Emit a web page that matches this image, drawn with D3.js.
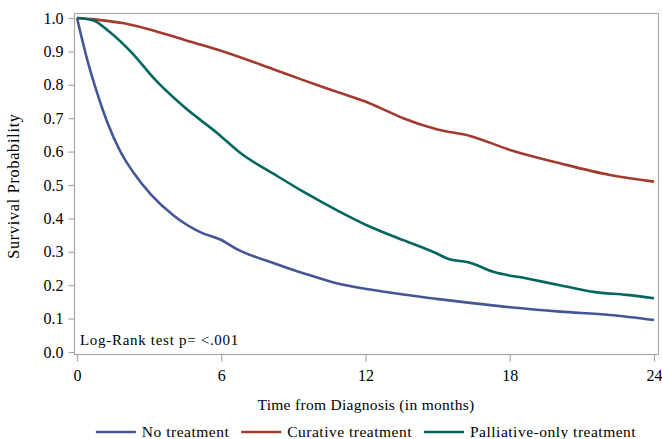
<!DOCTYPE html>
<html>
<head>
<meta charset="utf-8">
<script src="https://cdn.jsdelivr.net/npm/d3@7"></script>
<style>
  body { margin: 0; background: #fff; }
  text { font-family: "Liberation Serif", "Times New Roman", serif; fill: #000; }
</style>
</head>
<body>
<svg id="chart" width="662" height="439"></svg>
<script>
// months since diagnosis and survival probability
const noTxMonths = [0, 0.43, 0.84, 1.26, 1.82, 2.37, 3.07, 4.03, 5.15, 5.98, 6.67, 8.19, 9.41, 10.8, 12.19, 13.57, 14.96, 16.35, 18.01, 20.09, 22.17, 24];
const noTxSurv = [1.0, 0.874, 0.775, 0.688, 0.598, 0.535, 0.472, 0.408, 0.358, 0.336, 0.307, 0.266, 0.236, 0.206, 0.187, 0.172, 0.159, 0.147, 0.134, 0.121, 0.111, 0.096];

const curMonths = [0, 0.71, 1.96, 3.34, 4.73, 6.11, 8.19, 9.41, 10.8, 12.19, 12.88, 13.57, 14.96, 16.35, 18.01, 20.09, 22.17, 24];
const curSurv = [1.0, 0.996, 0.984, 0.959, 0.929, 0.899, 0.846, 0.814, 0.779, 0.744, 0.722, 0.70, 0.667, 0.647, 0.605, 0.565, 0.53, 0.51];

const palMonths = [0, 0.71, 1.26, 2.37, 3.2, 4.45, 5.84, 6.81, 8.19, 9.41, 10.8, 12.19, 13.57, 14.96, 15.4, 16.35, 17.32, 18.71, 20.09, 21.48, 22.87, 24];
const palSurv = [1.0, 0.992, 0.964, 0.889, 0.819, 0.734, 0.655, 0.595, 0.533, 0.48, 0.425, 0.375, 0.335, 0.295, 0.28, 0.267, 0.24, 0.22, 0.20, 0.18, 0.171, 0.161];

const xTicks = [0, 6, 12, 18, 24];
const yTicks = [0, 0.1, 0.2, 0.3, 0.4, 0.5, 0.6, 0.7, 0.8, 0.9, 1.0];

const seriesNames = ['No treatment', 'Curative treatment', 'Palliative-only treatment'];
const seriesColors = ['#445694', '#A23A2E', '#01665E'];

const svg = d3.select('#chart');

const x = d3.scaleLinear().domain([0, 24]).range([77, 654]);
const y = d3.scaleLinear().domain([0, 1]).range([352, 18]);

// frame
svg.append('rect')
  .attr('x', 74.5).attr('y', 13.5)
  .attr('width', 584).attr('height', 341)
  .attr('fill', 'none').attr('stroke', '#a8a8a8').attr('stroke-width', 1.2);

const yAxis = svg.append('g')
  .attr('transform', 'translate(74.5,0)')
  .call(d3.axisLeft(y).tickValues(yTicks).tickFormat(d3.format('.1f')).tickSize(6).tickPadding(5));
const xAxis = svg.append('g')
  .attr('transform', 'translate(0,354.5)')
  .call(d3.axisBottom(x).tickValues(xTicks).tickSize(7).tickPadding(8));

[yAxis, xAxis].forEach(a => {
  a.select('.domain').remove();
  a.selectAll('line').attr('stroke', '#a8a8a8').attr('stroke-width', 1.2);
  a.selectAll('text')
    .style('font-family', '"Liberation Serif", serif')
    .style('font-size', '16px')
    .attr('fill', '#000');
});

const line = d3.line()
  .x(d => x(d[0]))
  .y(d => y(d[1]))
  .curve(d3.curveMonotoneX);
const allSeries = [
  d3.zip(noTxMonths, noTxSurv),
  d3.zip(curMonths, curSurv),
  d3.zip(palMonths, palSurv)
];

[1, 2, 0].forEach(i => {
  svg.append('path')
    .datum(allSeries[i])
    .attr('fill', 'none')
    .attr('stroke', seriesColors[i])
    .attr('stroke-width', 2.6)
    .attr('stroke-linejoin', 'round')
    .attr('d', line);
});

svg.append('text')
  .attr('x', 80).attr('y', 345)
  .style('font-size', '15px')
  .style('letter-spacing', '0.7px')
  .text('Log-Rank test p= <.001');

svg.append('text')
  .attr('transform', 'translate(19,186) rotate(-90)')
  .attr('text-anchor', 'middle')
  .style('font-size', '16px')
  .style('letter-spacing', '0.8px')
  .text('Survival Probability');

svg.append('text')
  .attr('x', 366).attr('y', 410)
  .attr('text-anchor', 'middle')
  .style('font-size', '15.5px')
  .style('letter-spacing', '0.3px')
  .text('Time from Diagnosis (in months)');

// legend
const legend = svg.append('g');
let lx = 0;
seriesNames.forEach((name, i) => {
  legend.append('line')
    .attr('x1', lx).attr('x2', lx + 40)
    .attr('y1', 432).attr('y2', 432)
    .attr('stroke', seriesColors[i]).attr('stroke-width', 2.6);
  const t = legend.append('text')
    .attr('x', lx + 46).attr('y', 437)
    .style('font-size', '15.5px')
    .style('letter-spacing', '0.5px')
    .text(name);
  lx += 46 + t.node().getComputedTextLength() + 12;
});
const lw = lx - 12;
legend.attr('transform', `translate(${366 - lw / 2},0)`);
</script>
</body>
</html>
